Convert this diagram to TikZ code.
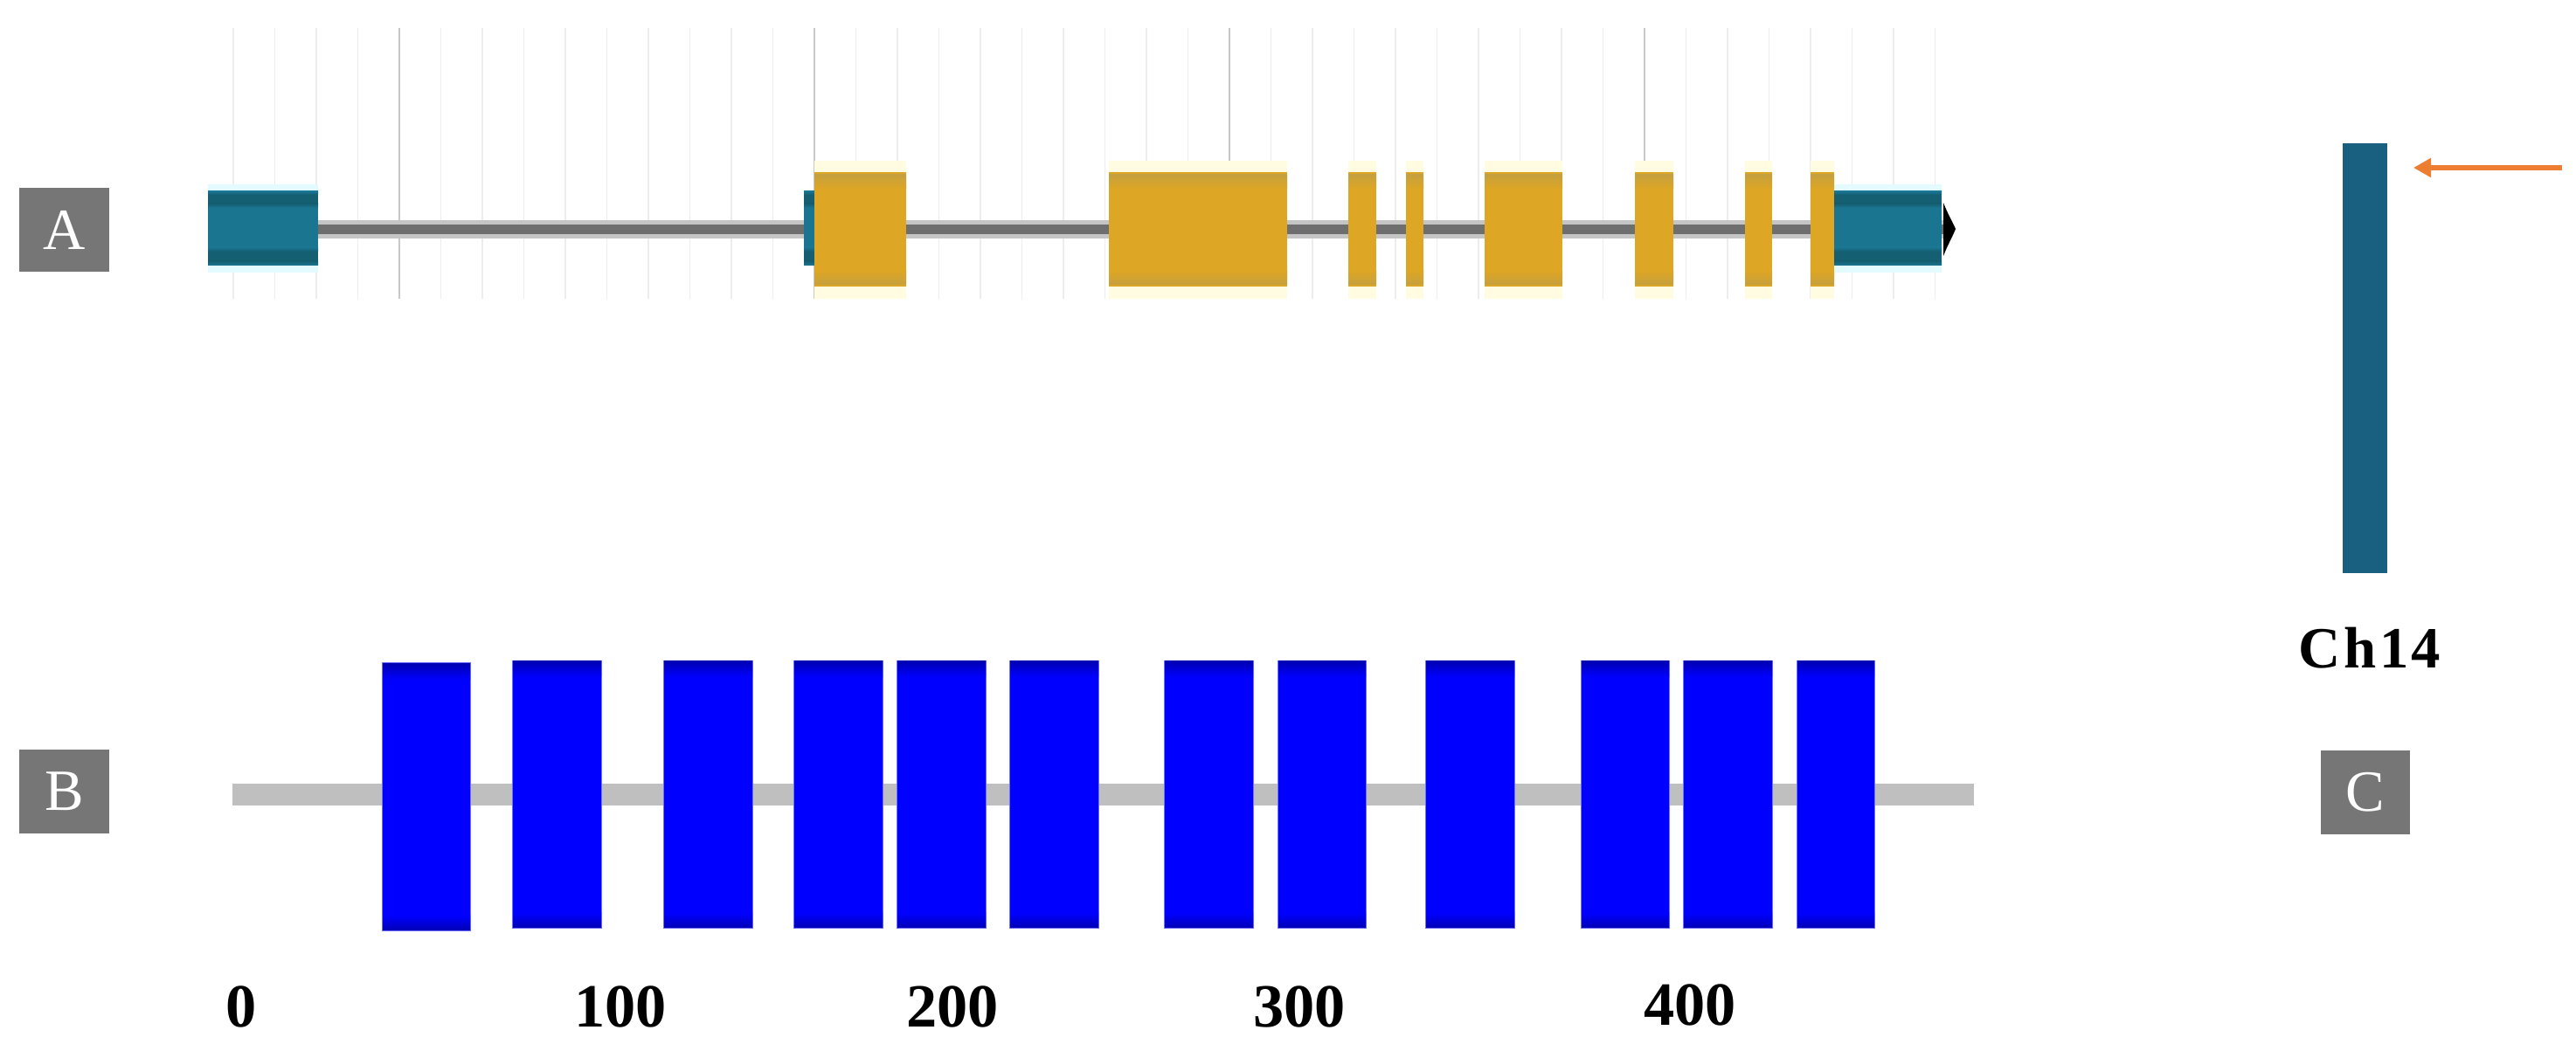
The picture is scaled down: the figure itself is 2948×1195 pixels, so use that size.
\documentclass[tikz,border=0pt]{standalone}
\usepackage{fontspec}
\setmainfont{Liberation Serif}
\usetikzlibrary{arrows.meta}
\definecolor{tealA}{HTML}{1A7591}
\definecolor{tealdark}{HTML}{145F72}
\definecolor{tealhalo}{HTML}{E3FBFF}
\definecolor{goldA}{HTML}{DDA624}
\definecolor{golddark}{HTML}{C6A03E}
\definecolor{goldhalo}{HTML}{FFFCE2}
\definecolor{introngray}{HTML}{6E6E6E}
\definecolor{gridline}{HTML}{EDEDED}
\definecolor{gridmajor}{HTML}{C8C8C8}
\definecolor{labgray}{HTML}{767676}
\definecolor{protgray}{HTML}{BFBFBF}
\definecolor{blueA}{HTML}{0000FF}
\definecolor{bluedark}{HTML}{0000B4}
\definecolor{blueedge}{HTML}{7070FF}
\definecolor{chrcol}{HTML}{185F80}
\definecolor{orangeA}{HTML}{ED7D31}
\tikzset{
  panellab/.style={fill=labgray, text=white, inner sep=0pt, minimum width=1.02cm, minimum height=0.96cm, font=\fontsize{19}{19}\selectfont},
  axislab/.style={inner sep=0pt, font=\fontsize{20}{20}\selectfont\bfseries},
  gridminor/.style={draw=gridline, line width=0.4pt},
  gridmaj/.style={draw=gridmajor, line width=0.5pt},
  orangearrow/.style={draw=orangeA, line width=1.45pt, -{Triangle[length=0.2cm,width=0.21cm]}}
}
\begin{document}
\begin{tikzpicture}[x=0.01cm,y=-0.01cm]
\useasboundingbox[fill=white] (0,0) rectangle (2948,1195);

% ---------------- Panel A ----------------
\node[panellab] (boxA) at (73.5,263) {A};
% grid lines
\foreach \k in {-4,...,37} {
  \draw[gridminor] ({457+47.5*\k},32) -- ({457+47.5*\k},342);
}
\foreach \k in {0,10,20,30} {
  \draw[gridmaj] ({457+47.5*\k},32) -- ({457+47.5*\k},342);
}
% halos
\foreach \a/\b in {238/364, 2099/2222} {
  \fill[tealhalo] (\a,211) rectangle (\b,312);
}
\foreach \a/\b in {932/1037, 1269/1473, 1543/1575, 1609/1629, 1699/1788, 1871/1915, 1997/2028, 2072/2099} {
  \fill[goldhalo] (\a,184) rectangle (\b,342);
}
% intron line
\fill[introngray!40] (330,252) rectangle (2226,273);
\fill[introngray] (330,257) rectangle (2226,268);
% UTR blocks (teal)
\foreach \a/\b in {238/364, 920/934, 2099/2222} {
  \fill[tealA] (\a,219) rectangle (\b,304);
  \shade[top color=tealA, bottom color=tealdark] (\a,219) rectangle (\b,223);
  \fill[tealdark] (\a,223) rectangle (\b,233);
  \shade[top color=tealdark, bottom color=tealA] (\a,233) rectangle (\b,238);
  \shade[top color=tealA, bottom color=tealdark] (\a,283) rectangle (\b,288);
  \fill[tealdark] (\a,288) rectangle (\b,299);
  \shade[top color=tealdark, bottom color=tealA] (\a,299) rectangle (\b,304);
}
% exon blocks (gold)
\foreach \a/\b in {932/1037, 1269/1473, 1543/1575, 1609/1629, 1699/1788, 1871/1915, 1997/2028, 2072/2099} {
  \fill[goldA] (\a,197) rectangle (\b,328);
  \shade[top color=golddark, bottom color=goldA] (\a,200) rectangle (\b,216);
  \shade[top color=goldA, bottom color=golddark] (\a,310) rectangle (\b,326);
}
% 3' end marker
\fill[black] (2224,232) .. controls (2229,245) and (2235,255) .. (2238,262) .. controls (2235,270) and (2229,280) .. (2224,293) -- cycle;

% ---------------- Panel B ----------------
\node[panellab] (boxB) at (73.5,906) {B};
\fill[protgray] (266,897) rectangle (2259,922);
\fill[blueedge] (437,758) rectangle (539,1066);
\shade[top color=bluedark, bottom color=blueA] (438,760) rectangle (538,778);
\fill[blueA] (438,778) rectangle (538,1048);
\shade[top color=blueA, bottom color=bluedark] (438,1048) rectangle (538,1065);
\foreach \a/\b in {587/688, 760/861, 909/1010, 1027/1128, 1156/1257, 1333/1434, 1463/1563, 1632/1733, 1810/1910, 1927/2028, 2057/2145} {
  \fill[blueedge] ({\a-1},756) rectangle ({\b+1},1063);
  \shade[top color=bluedark, bottom color=blueA] (\a,757) rectangle (\b,775);
  \fill[blueA] (\a,775) rectangle (\b,1045);
  \shade[top color=blueA, bottom color=bluedark] (\a,1045) rectangle (\b,1062);
}
\node[axislab] (l0) at (276,1152) {0};
\node[axislab] (l100) at (710,1152) {100};
\node[axislab] (l200) at (1090,1152) {200};
\node[axislab] (l300) at (1487,1152) {300};
\node[axislab] (l400) at (1934,1150) {400};

% ---------------- Panel C ----------------
\node[fill=chrcol, inner sep=0pt, minimum width=0.51cm, minimum height=4.92cm] (chr) at (2706.5,410) {};
\coordinate (arrS) at (2932,192);
\coordinate (arrE) at (2762,192);
\draw[orangearrow] (arrS) -- (arrE);
\node[axislab, font=\fontsize{19}{19}\selectfont\bfseries] (ch14) at (2712,742) {C\kern1pt h\kern1pt 1\kern1pt 4};
\node[panellab] (boxC) at (2707,907) {C};
\end{tikzpicture}
\end{document}
